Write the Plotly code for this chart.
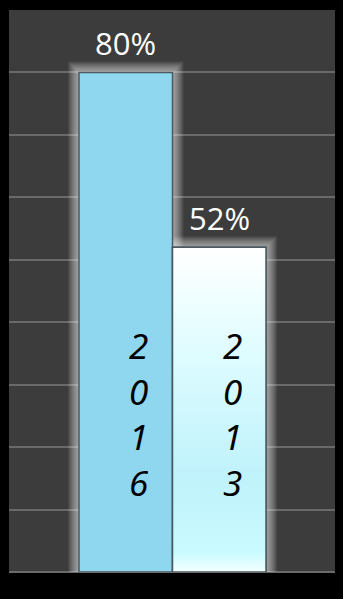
import plotly.graph_objects as go

# Survey share by year
years = ["2016", "2013"]
values = [80, 52]
value_labels = ["80%", "52%"]

positions = list(range(len(years)))
bar_colors = ["#8fd7ee", "#ffffff"]
outline = "#4a5a60"

W, H = 343, 599
margin = dict(l=9, r=8, t=10, b=27)
x_range = [-1.249, 2.238]
y_range = [0, 90]
px_x = (W - margin["l"] - margin["r"]) / (x_range[1] - x_range[0])
px_y = (H - margin["t"] - margin["b"]) / (y_range[1] - y_range[0])

fig = go.Figure()

fig.add_trace(go.Bar(
    x=positions, y=values, width=1,
    marker=dict(color=bar_colors, line=dict(color=outline, width=1.5)),
    hoverinfo="skip",
))

# Second bar gets a vertical pale-cyan gradient
i2, v2 = positions[1], values[1]
fig.add_trace(go.Scatter(
    x=[i2 - 0.5, i2 + 0.5, i2 + 0.5, i2 - 0.5, i2 - 0.5],
    y=[0, 0, v2, v2, 0],
    mode="lines", fill="toself",
    line=dict(color=outline, width=1.5),
    fillgradient=dict(
        type="vertical",
        colorscale=[[0, "#f4ffff"], [0.06, "#c9faff"], [0.3, "#c0f2fb"],
                    [0.65, "#dcfcff"], [1, "#ffffff"]],
        start=0, stop=v2,
    ),
    hoverinfo="skip",
))

# Soft light halo around each bar
shapes = []
for p, v in zip(positions, values):
    for k in range(1, 12):
        dx, dy = k / px_x, k / px_y
        shapes.append(dict(
            type="rect", xref="x", yref="y", layer="between",
            x0=p - 0.5 - dx, x1=p + 0.5 + dx, y0=0, y1=v + dy,
            fillcolor="rgba(255,255,255,0.065)", line=dict(width=0),
        ))

annotations = []
for p, v, lab, yr in zip(positions, values, value_labels, years):
    annotations.append(dict(
        x=p, y=v, xref="x", yref="y", text=lab, showarrow=False,
        yanchor="middle", yshift=29,
        font=dict(family="Open Sans", size=31, color="#ffffff"),
    ))
    annotations.append(dict(
        x=p, y=25.3, xref="x", yref="y", text="<br>".join(yr), showarrow=False,
        yanchor="middle", xshift=13,
        font=dict(family="Noto Sans", size=35, color="#000000", style="italic"),
    ))

fig.update_layout(
    width=W, height=H, margin=margin,
    paper_bgcolor="#000000", plot_bgcolor="#3c3c3c",
    showlegend=False, hovermode=False,
    shapes=shapes, annotations=annotations,
    xaxis=dict(range=x_range, showgrid=False, zeroline=False,
               showticklabels=False, fixedrange=True),
    yaxis=dict(range=y_range, dtick=10, showgrid=True, gridcolor="#6a6a6a",
               gridwidth=1.5, zeroline=True, zerolinecolor="#6a6a6a",
               zerolinewidth=1.5, showticklabels=False, fixedrange=True),
)

fig.write_html("out.html", config={"displayModeBar": False})
